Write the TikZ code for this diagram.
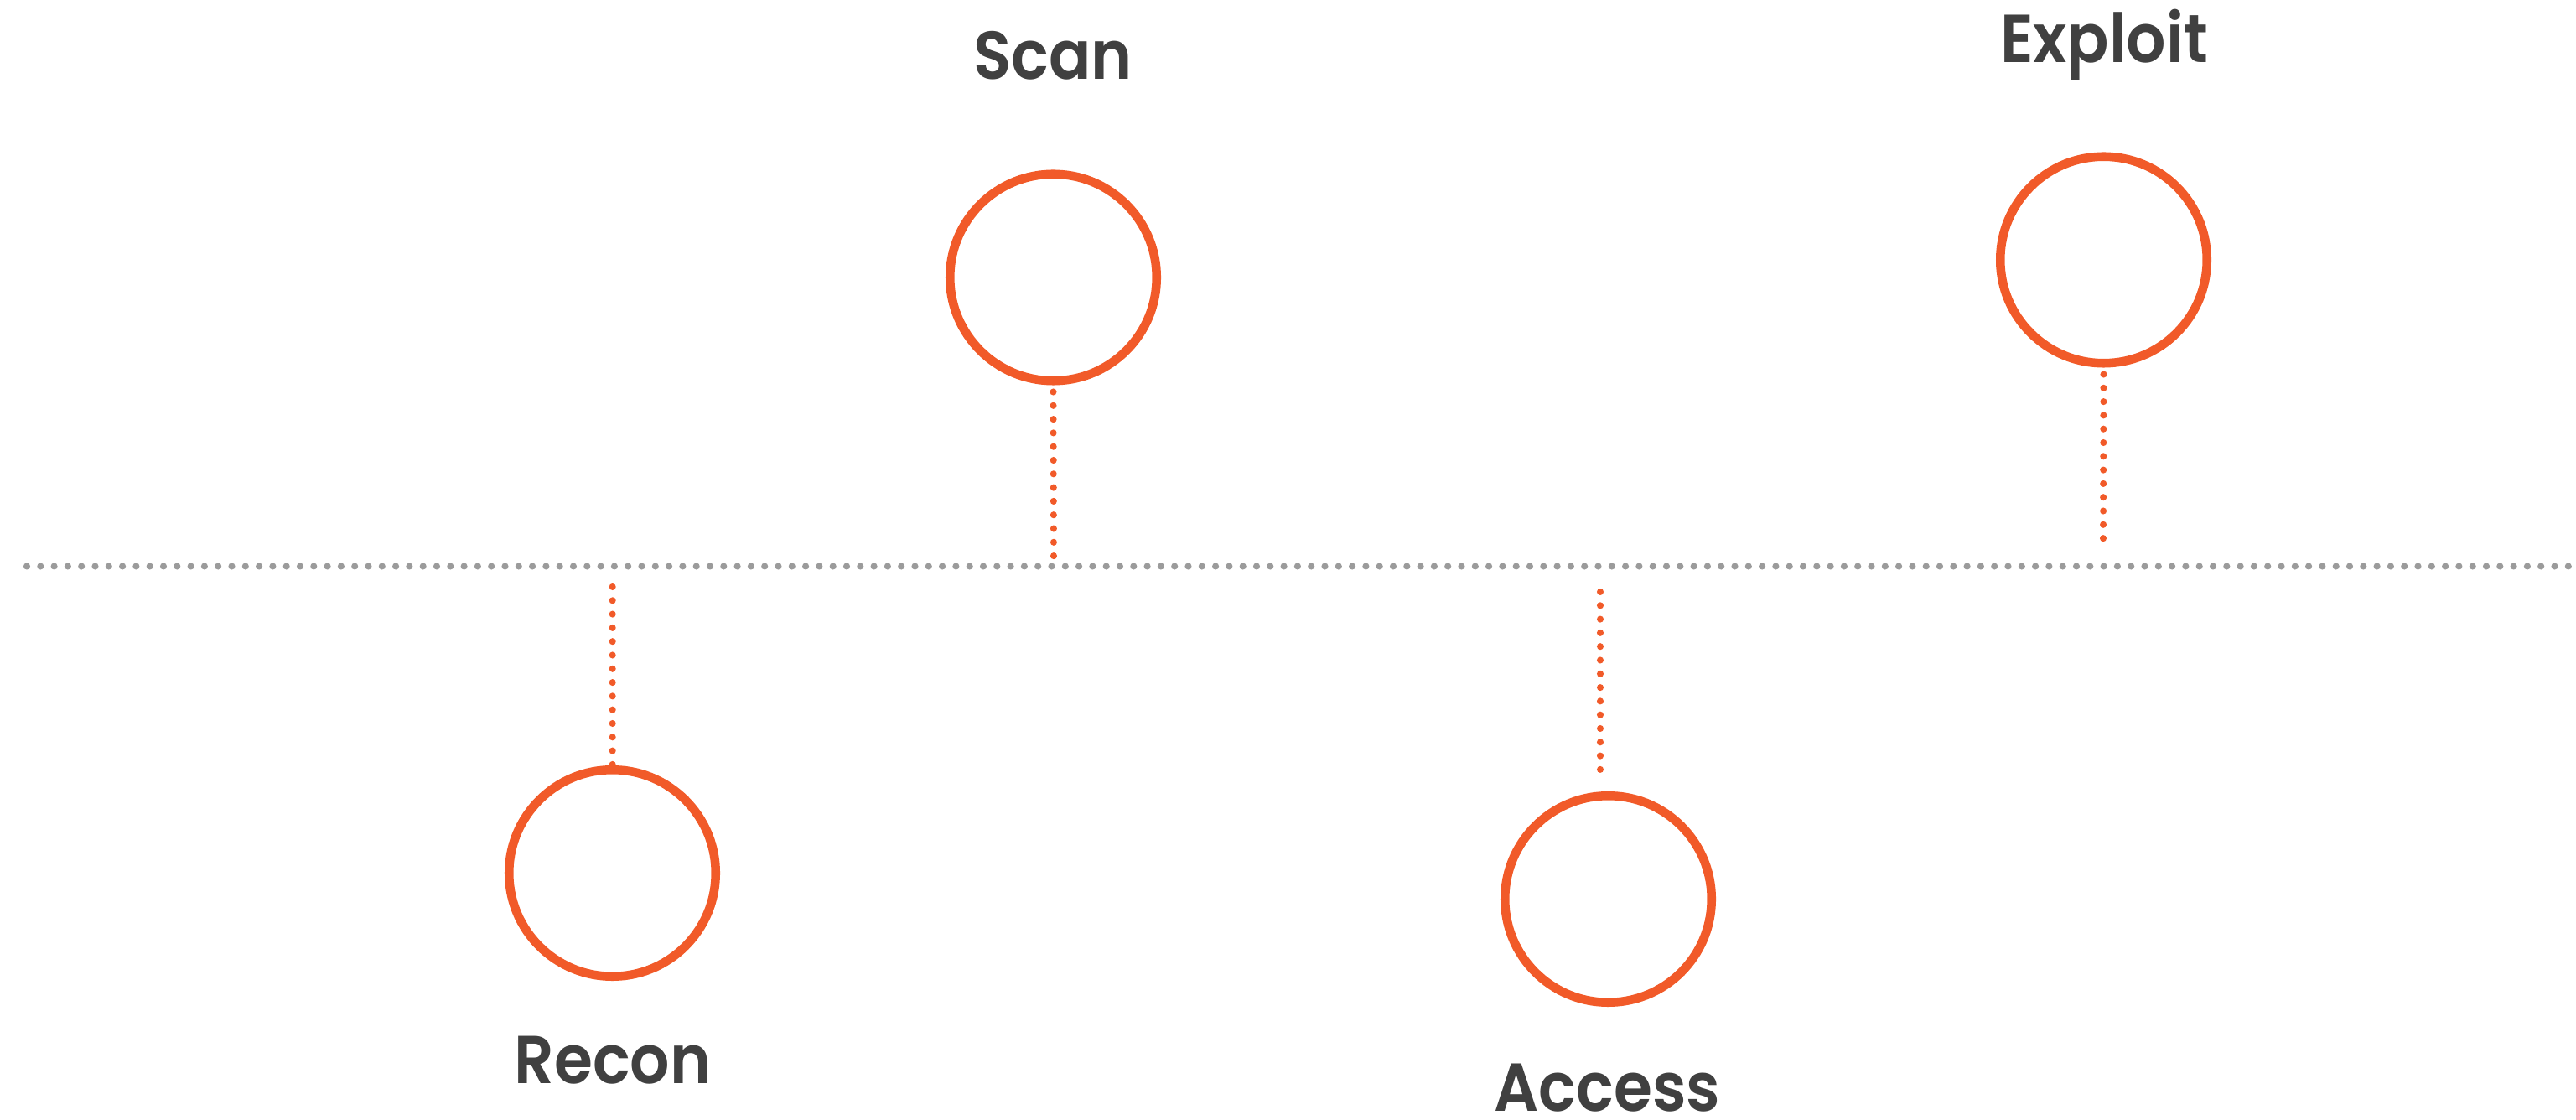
\documentclass[tikz,border=0pt]{standalone}
\usepackage{fontspec}
\newfontfamily\phasefont{Poppins SemiBold}[FakeStretch=0.92]
\definecolor{orng}{HTML}{F15A29}
\definecolor{lgray}{HTML}{9B9B9B}
\definecolor{dgray}{HTML}{404040}

\begin{document}
\begin{tikzpicture}[phase/.style={circle,draw=orng,line width=3pt,minimum size=2.465cm,inner sep=0pt},
phaseTxt/.style={anchor=base,text=dgray,font=\phasefont\fontsize{23}{28}\selectfont,inner sep=0pt},
tick/.style={orng,line width=2.3pt,line cap=round,dash pattern=on 0pt off 1.63mm}]
\def\lineY{6.605}
\def\dotGap{0.163}
\useasboundingbox (0,0) rectangle (30.73,13.36);
  %\draw[help lines] (0,0) grid (31,14);
\draw[lgray,line width=2.3pt,line cap=round,dash pattern=on 0pt off 1.63mm] (0.32,\lineY) -- (30.645,\lineY);
\node[phase] (recon) at (7.305,2.945) {};
\node[phase] (scan) at (12.565,10.05) {};
\node[phase] (access) at (19.185,2.635) {};
\node[phase] (exploit) at (25.095,10.26) {};
\coordinate (reconEnd) at (7.307,6.36);
\coordinate (scanEnd) at (12.57,6.72);
\coordinate (accessEnd) at (19.09,6.30);
\coordinate (exploitEnd) at (25.09,6.93);
\draw[tick] (reconEnd) -- ++(0,-13*\dotGap-0.004);
\draw[tick] ([yshift=-0.08cm]scan.south) -- (scanEnd);
\draw[tick] (accessEnd) -- ++(0,-13*\dotGap-0.004);
\draw[tick] ([yshift=-0.08cm]exploit.south) -- (exploitEnd);
\path
(7.31,0.43) node [phaseTxt] (reconTxt) {Recon}
(12.56,12.41) node [phaseTxt] (scanTxt) {Scan}
(19.175,0.10) node [phaseTxt] (accessTxt) {Access}
(25.10,12.61) node [phaseTxt] (exploitTxt) {Exploit}
;
\end{tikzpicture}
\end{document}
